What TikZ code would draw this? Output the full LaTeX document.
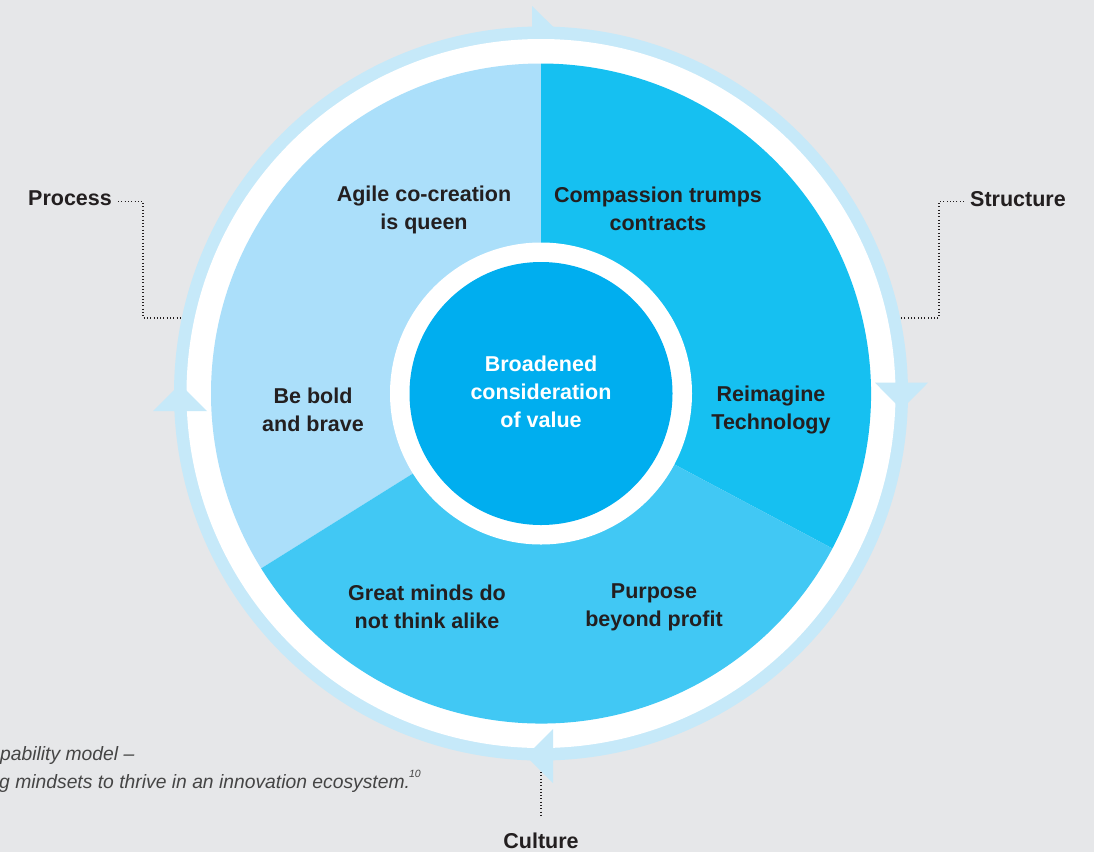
\documentclass[tikz,border=0pt]{standalone}
\usepackage{fontspec}
\setmainfont{Liberation Sans}
\definecolor{bgc}{HTML}{E6E7E9}
\definecolor{ringc}{HTML}{C6E9F9}
\definecolor{segA}{HTML}{ABDFFA}
\definecolor{segB}{HTML}{16C0F1}
\definecolor{segC}{HTML}{41C8F4}
\definecolor{corec}{HTML}{00AEEF}
\definecolor{inkc}{HTML}{231F20}
\definecolor{capc}{HTML}{454545}
\tikzset{
  lbl/.style={text=inkc, font=\bfseries\fontsize{21.5}{28}\selectfont, align=center, inner sep=0pt},
  side/.style={text=inkc, font=\bfseries\fontsize{21.5}{28}\selectfont, inner sep=0pt},
  leader/.style={draw=inkc, line width=1.3pt, dash pattern=on 1pt off 2.3pt},
  arrowtri/.style={fill=ringc},
  captxt/.style={anchor=base west, inner sep=0pt, text=capc, font=\itshape\fontsize{19.3}{28}\selectfont}
}
\begin{document}
\begin{tikzpicture}[x=1pt,y=1pt]
\useasboundingbox (0,0) rectangle (1094,-852);
\fill[bgc] (0,0) rectangle (1094,-852);
\coordinate (c) at (541,-393.5);
% outer ring
\fill[ringc] (c) circle (367pt);
% top arrow (inner half hidden)
\fill[arrowtri] (532,-6) -- (559,-32.5) -- (532,-59) -- cycle;
\fill[white] (c) circle (354.5pt);
% segments
\fill[segA] (c) -- ++(90:330pt) arc[start angle=90, end angle=212, radius=330pt] -- cycle;
\fill[segB] (c) -- ++(-28:330pt) arc[start angle=-28, end angle=90, radius=330pt] -- cycle;
\fill[segC] (c) -- ++(212:330pt) arc[start angle=212, end angle=332, radius=330pt] -- cycle;
% core
\fill[white] (c) circle (151pt);
\fill[corec] (c) circle (131.5pt);
% other arrows
\fill[arrowtri] (153,-411) -- (207,-411) -- (180,-384) -- cycle;
\fill[arrowtri] (875,-382.7) -- (928,-382.7) -- (901.5,-409.5) -- cycle;
\fill[arrowtri] (553,-729) -- (553,-783) -- (526,-756) -- cycle;
% segment labels
\node[lbl] (agile) at (424,-209.5) {Agile co-creation\\is queen};
\node[lbl] (comp) at (658,-209) {Compassion trumps\\contracts};
\node[lbl] (bold) at (313,-410) {Be bold\\and brave};
\node[lbl] (reim) at (771,-410) {Reimagine\\Technology};
\node[lbl] (great) at (427,-607) {Great minds do\\not think alike};
\node[lbl] (purp) at (654,-607) {Purpose\\beyond profit};
\node[lbl, text=white] (core) at (541,-392) {Broadened\\consideration\\of value};
% side labels
\node[side] (process) at (70,-198.7) {Process};
\node[side] (structure) at (1018,-198.7) {Structure};
\node[side] (culture) at (541,-841) {Culture};
\coordinate (pend) at (181,-318);
\coordinate (send) at (901,-318);
\coordinate (cend) at (541,-772);
\draw[leader] ([shift={(6pt,-3pt)}]process.east) -- (143,-201.7) -- (143,-318) -- (pend);
\draw[leader] ([shift={(-6pt,-3pt)}]structure.west) -- (939,-201.7) -- (939,-318) -- (send);
\draw[leader] (cend) -- ([yshift=15pt]culture.north);
% caption
\node[captxt] (cap1) at (0,-760) {pability model –};
\node[captxt] (cap2) at (-1,-788) {g mindsets to thrive in an innovation ecosystem.\kern-1pt\raisebox{0.55em}{\fontsize{10.5}{10.5}\selectfont 10}};
\end{tikzpicture}
\end{document}
